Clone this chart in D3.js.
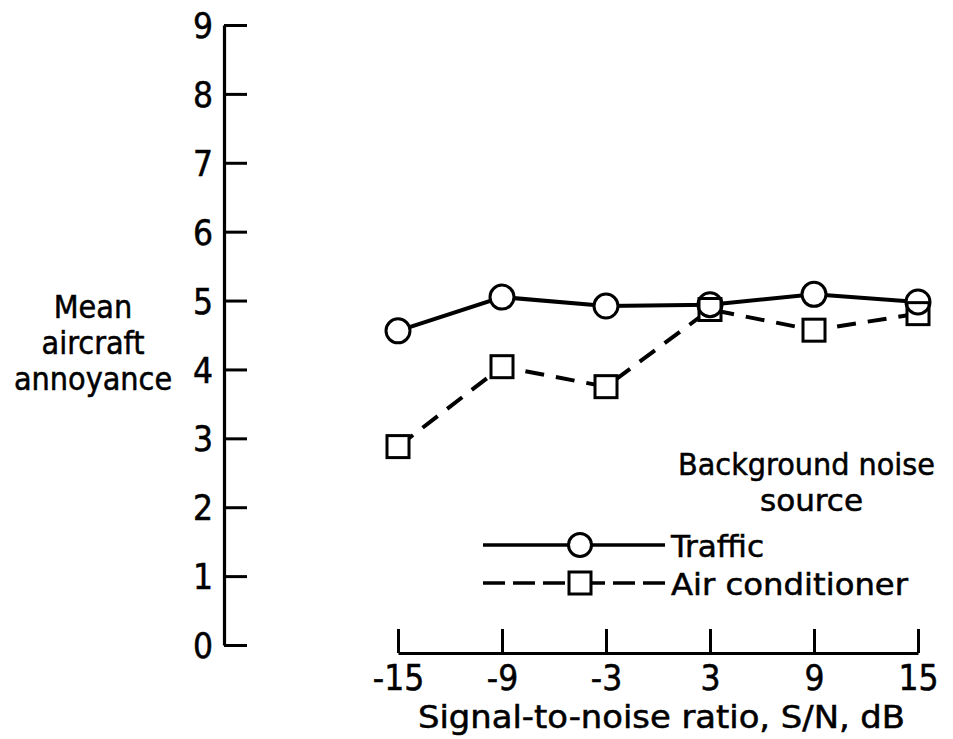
<!DOCTYPE html>
<html>
<head>
<meta charset="utf-8">
<script src="https://cdn.jsdelivr.net/npm/d3@7"></script>
<style>
  html, body { margin: 0; padding: 0; background: #fff; }
  svg { display: block; }
  text { font-family: "DejaVu Sans Condensed", "DejaVu Sans", sans-serif; fill: #000; stroke: #000; stroke-width: 0.5px; }
</style>
</head>
<body>
<svg id="chart" width="953" height="739"></svg>
<script>
// Signal-to-noise ratio, dB
const snr = [-15, -9, -3, 3, 9, 15];
// Mean aircraft annoyance for each background noise source
const traffic = [4.56, 5.05, 4.92, 4.94, 5.09, 4.98];
const airConditioner = [2.88, 4.04, 3.75, 4.87, 4.57, 4.81];
const yTicks = [0, 1, 2, 3, 4, 5, 6, 7, 8, 9];
const xTicks = [-15, -9, -3, 3, 9, 15];
const seriesNames = ["Traffic", "Air conditioner"];

const svg = d3.select("#chart");

const x = d3.scaleLinear().domain([-15, 15]).range([398, 918]);
const y = d3.scaleLinear().domain([0, 9]).range([645, 25]);
const yAxisX = 224;
const xAxisY = 653;

// Y axis: ticks pointing inward, labels on the left
const gy = svg.append("g").attr("transform", `translate(${yAxisX},0)`)
  .call(d3.axisRight(y).tickValues(yTicks).tickSize(23).tickSizeOuter(0).tickFormat(d3.format("d")));
gy.select(".domain").attr("stroke", "#000").attr("stroke-width", 3.2);
gy.selectAll(".tick line").attr("stroke", "#000").attr("stroke-width", 3);
gy.selectAll(".tick text")
  .attr("x", -11).attr("dy", "0.36em")
  .attr("text-anchor", "end")
  .style("font-size", "35px");

// X axis: ticks pointing up, labels below
const gx = svg.append("g").attr("transform", `translate(0,${xAxisY})`)
  .call(d3.axisTop(x).tickValues(xTicks).tickSize(24).tickSizeOuter(0).tickFormat(d => d));
gx.select(".domain").attr("stroke", "#000").attr("stroke-width", 3.2);
gx.selectAll(".tick text")
  .attr("y", 37).attr("dy", 0)
  .attr("text-anchor", "middle")
  .style("font-size", "35px");
gx.selectAll(".tick line").attr("stroke", "#000").attr("stroke-width", 3);

// Axis titles
svg.append("text").attr("x", 418).attr("y", 728)
  .attr("textLength", 487).attr("lengthAdjust", "spacingAndGlyphs")
  .style("font-size", "32px").text("Signal-to-noise ratio, S/N, dB");

const yTitle = svg.append("text").attr("text-anchor", "middle").style("font-size", "32px");
["Mean", "aircraft", "annoyance"].forEach((t, i) => {
  yTitle.append("tspan").attr("x", 93).attr("y", 318 + i * 36).text(t);
});

// Lines
const line = d3.line().x((d, i) => x(snr[i])).y(d => y(d));

svg.append("path").datum(airConditioner).attr("d", line)
  .attr("fill", "none").attr("stroke", "#000").attr("stroke-width", 4)
  .attr("stroke-dasharray", "19,12");

svg.append("path").datum(traffic).attr("d", line)
  .attr("fill", "none").attr("stroke", "#000").attr("stroke-width", 4);

// Markers: hollow, lines stop at their edges
const sq = 22, rad = 12;
const squares = (sel) => sel.data(airConditioner).join("rect")
  .attr("x", (d, i) => x(snr[i]) - sq / 2).attr("y", d => y(d) - sq / 2)
  .attr("width", sq).attr("height", sq);
const circles = (sel) => sel.data(traffic).join("circle")
  .attr("cx", (d, i) => x(snr[i])).attr("cy", d => y(d)).attr("r", rad);

squares(svg.append("g").attr("fill", "#fff").selectAll("rect"));
circles(svg.append("g").attr("fill", "#fff").selectAll("circle"));
squares(svg.append("g").attr("fill", "none").attr("stroke", "#000").attr("stroke-width", 3).selectAll("rect"));
circles(svg.append("g").attr("fill", "none").attr("stroke", "#000").attr("stroke-width", 3).selectAll("circle"));

// Legend
svg.append("text").attr("x", 678).attr("y", 475)
  .attr("textLength", 257).attr("lengthAdjust", "spacingAndGlyphs")
  .style("font-size", "31px").text("Background noise");
svg.append("text").attr("x", 760).attr("y", 511)
  .attr("textLength", 103).attr("lengthAdjust", "spacingAndGlyphs")
  .style("font-size", "31px").text("source");

const lx0 = 483, lx1 = 665, lmx = 580;
const legY = [545, 583];

svg.append("line").attr("x1", lx0).attr("x2", lx1).attr("y1", legY[0]).attr("y2", legY[0])
  .attr("stroke", "#000").attr("stroke-width", 3.5);
svg.append("circle").attr("cx", lmx).attr("cy", legY[0]).attr("r", 11.5)
  .attr("fill", "#fff").attr("stroke", "#000").attr("stroke-width", 3);

svg.append("line").attr("x1", lx0).attr("x2", lmx - sq / 2).attr("y1", legY[1]).attr("y2", legY[1])
  .attr("stroke", "#000").attr("stroke-width", 3.5).attr("stroke-dasharray", "22,8");
svg.append("line").attr("x1", lx1).attr("x2", lmx + sq / 2).attr("y1", legY[1]).attr("y2", legY[1])
  .attr("stroke", "#000").attr("stroke-width", 3.5).attr("stroke-dasharray", "22,8");
svg.append("rect").attr("x", lmx - sq / 2).attr("y", legY[1] - sq / 2).attr("width", sq).attr("height", sq)
  .attr("fill", "#fff").attr("stroke", "#000").attr("stroke-width", 3);

const legLen = [93, 237];
seriesNames.forEach((n, i) => {
  svg.append("text").attr("x", 671).attr("y", legY[i] + 12)
    .attr("textLength", legLen[i]).attr("lengthAdjust", "spacingAndGlyphs")
    .style("font-size", "31px").text(n);
});
</script>
</body>
</html>
